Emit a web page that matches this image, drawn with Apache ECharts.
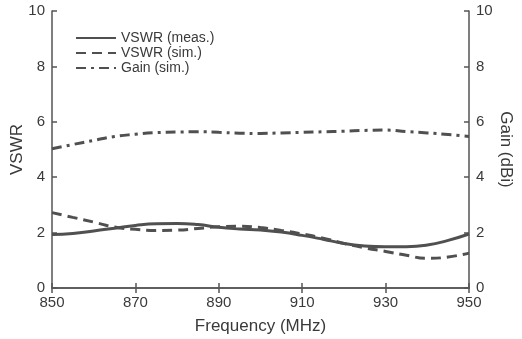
<!DOCTYPE html>
<html><head><meta charset="utf-8">
<script src="https://cdn.jsdelivr.net/npm/echarts@6/dist/echarts.min.js"></script>
<style>html,body{margin:0;padding:0;background:#fff}#c{width:522px;height:339px}</style>
</head><body><div id="c"></div>
<script>
var freq = [850,855,860,865,870,875,880,885,890,895,900,905,910,915,920,925,930,935,940,945,950];
var vswrMeas = [1.93,1.97,2.06,2.16,2.26,2.32,2.33,2.29,2.19,2.13,2.09,2.02,1.90,1.76,1.61,1.52,1.49,1.49,1.55,1.72,1.95];
var vswrSim = [2.72,2.55,2.38,2.20,2.12,2.08,2.09,2.15,2.21,2.23,2.18,2.08,1.95,1.80,1.61,1.45,1.32,1.18,1.07,1.12,1.26];
var gainSim = [5.03,5.18,5.33,5.47,5.55,5.61,5.63,5.64,5.62,5.59,5.58,5.60,5.62,5.64,5.66,5.69,5.70,5.65,5.60,5.54,5.47];
var names = ['VSWR (meas.)','VSWR (sim.)','Gain (sim.)'];

function pairs(v){ return freq.map(function(f,i){ return [f, v[i]]; }); }
var font = 'Liberation Sans, Arial, sans-serif';
var axisColor = '#555';
var lineColor = '#505050';
var textColor = '#3a3a3a';
var chart = echarts.init(document.getElementById('c'), null, {renderer:'canvas'});
var axLine = {show:true, lineStyle:{color:axisColor, width:1.5}};
var tick = {show:true, inside:true, length:5, lineStyle:{color:axisColor, width:1.5}};
chart.setOption({
  animation:false,
  backgroundColor:'#fff',
  grid:{left:52, right:53, top:11, bottom:51, containLabel:false, outerBoundsMode:'none'},
  legend:{
    orient:'vertical', left:70, top:26, itemWidth:40, itemHeight:10, itemGap:1,
    itemStyle:{opacity:0},
    lineStyle:{width:2},
    textStyle:{fontFamily:font, fontSize:14, color:textColor, lineHeight:14},
    data:names
  },
  xAxis:[{
    type:'value', min:850, max:950, interval:20, position:'bottom',
    name:'Frequency (MHz)', nameLocation:'middle', nameGap:30,
    nameTextStyle:{fontFamily:font, fontSize:17, color:textColor},
    axisLine:axLine, axisTick:tick, splitLine:{show:false},
    axisLabel:{fontFamily:font, fontSize:15, color:textColor, margin:7}
  },{
    type:'value', min:850, max:950, interval:20, position:'top',
    axisLine:axLine, axisTick:tick, splitLine:{show:false}, axisLabel:{show:false}
  }],
  yAxis:[{
    type:'value', min:0, max:10, interval:2, position:'left',
    name:'VSWR', nameLocation:'middle', nameGap:26, nameRotate:90, nameMoveOverlap:false,
    nameTextStyle:{fontFamily:font, fontSize:17, color:textColor},
    axisLine:axLine, axisTick:tick, splitLine:{show:false},
    axisLabel:{fontFamily:font, fontSize:15, color:textColor, margin:7}
  },{
    type:'value', min:0, max:10, interval:2, position:'right',
    name:'Gain (dBi)', nameLocation:'middle', nameGap:28, nameRotate:-90, nameMoveOverlap:false,
    nameTextStyle:{fontFamily:font, fontSize:17, color:textColor},
    axisLine:axLine, axisTick:tick, splitLine:{show:false},
    axisLabel:{fontFamily:font, fontSize:15, color:textColor, margin:7}
  }],
  series:[{
    name:names[0], type:'line', data:pairs(vswrMeas), smooth:true, symbol:'none',
    lineStyle:{color:lineColor, width:3, type:'solid'}, itemStyle:{color:lineColor}
  },{
    name:names[1], type:'line', data:pairs(vswrSim), smooth:true, symbol:'none',
    lineStyle:{color:lineColor, width:3, type:[10,6]}, itemStyle:{color:lineColor}
  },{
    name:names[2], type:'line', yAxisIndex:1, data:pairs(gainSim), smooth:true, symbol:'none',
    lineStyle:{color:lineColor, width:3, type:[10,5,3,5]}, itemStyle:{color:lineColor}
  }]
});
</script></body></html>
